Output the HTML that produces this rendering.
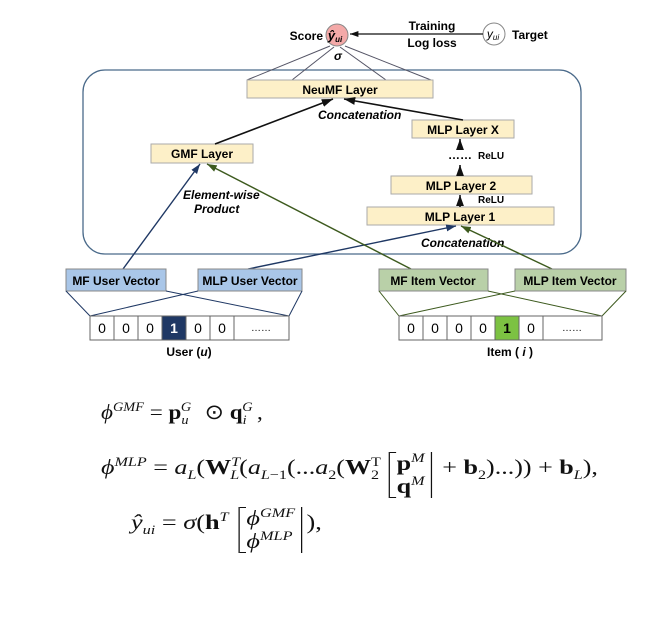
<!DOCTYPE html>
<html><head><meta charset="utf-8">
<style>
body{margin:0;background:#fff;}
#wrap{position:relative;width:672px;height:636px;overflow:hidden;font-family:"Liberation Sans",sans-serif;}
svg text{font-family:"Liberation Sans",sans-serif;}
.eq{position:absolute;font-family:"Liberation Serif",serif;font-size:21px;color:#111;white-space:nowrap;transform-origin:0 50%;}
.eq i{font-style:italic}
.eq b{font-weight:bold}
sup,sub{font-size:13px;line-height:0}
.mat{display:inline-block;vertical-align:middle;border-left:1.3px solid #111;border-right:1.3px solid #111;padding:0 5px;position:relative;line-height:23px;margin:0 3px}
.mat:before,.mat:after{content:"";position:absolute;left:0;width:5px;height:0;border-top:1.3px solid #111}
.mat:before{top:0}.mat:after{bottom:0}
</style></head><body>
<div id="wrap">
<svg width="672" height="390" style="position:absolute;left:0;top:0">
<defs>
<marker id="ak" markerWidth="8" markerHeight="8" refX="7" refY="4" orient="auto"><path d="M0,1.5 L7,4 L0,6.5z" fill="#111"/></marker>
<marker id="an" markerWidth="8" markerHeight="8" refX="7" refY="4" orient="auto"><path d="M0,1.5 L7,4 L0,6.5z" fill="#1f3864"/></marker>
<marker id="ag" markerWidth="8" markerHeight="8" refX="7" refY="4" orient="auto"><path d="M0,1.5 L7,4 L0,6.5z" fill="#3d5a1e"/></marker>
</defs>
<g><rect x="83" y="70" width="498" height="184" rx="22" fill="none" stroke="#4a6a8a" stroke-width="1.3"/></g>
<text x="323" y="40" font-size="12" font-weight="bold" text-anchor="end">Score</text>
<circle cx="337" cy="35" r="11" fill="#f4a9a8" stroke="#888"/>
<text x="335" y="40" font-size="13" font-style="italic" font-weight="bold" text-anchor="middle" font-family="Liberation Serif">ŷ<tspan font-size="8" dy="2">ui</tspan></text>
<circle cx="494" cy="34" r="11" fill="#fff" stroke="#888"/>
<text x="493" y="38" font-size="12" font-style="italic" text-anchor="middle" font-family="Liberation Serif">y<tspan font-size="8" dy="2">ui</tspan></text>
<text x="512" y="39" font-size="12" font-weight="bold">Target</text>
<line x1="483" y1="34" x2="350" y2="34" stroke="#111" stroke-width="1.2" marker-end="url(#ak)"/>
<text x="432" y="30" font-size="12" font-weight="bold" text-anchor="middle">Training</text>
<text x="432" y="47" font-size="12" font-weight="bold" text-anchor="middle">Log loss</text>
<text x="338" y="60" font-size="12" font-weight="bold" font-style="italic" text-anchor="middle" font-family="Liberation Serif">σ</text>
<g stroke="#556" stroke-width="1" fill="none">
<line x1="247" y1="80" x2="330" y2="46"/><line x1="292" y1="80" x2="334" y2="47"/><line x1="386" y1="80" x2="340" y2="47"/><line x1="431" y1="80" x2="345" y2="46"/>
</g>
<g font-size="12" font-weight="bold" text-anchor="middle">
<rect x="247" y="80" width="186" height="18" fill="#fdf0c8" stroke="#aaa"/><text x="340" y="94">NeuMF Layer</text>
<rect x="151" y="144" width="102" height="19" fill="#fdf0c8" stroke="#aaa"/><text x="202" y="158">GMF Layer</text>
<rect x="412" y="120" width="102" height="18" fill="#fdf0c8" stroke="#aaa"/><text x="463" y="134">MLP Layer X</text>
<rect x="391" y="176" width="141" height="18" fill="#fdf0c8" stroke="#aaa"/><text x="461" y="190">MLP Layer 2</text>
<rect x="367" y="207" width="187" height="18" fill="#fdf0c8" stroke="#aaa"/><text x="460" y="221">MLP Layer 1</text>
</g>
<g font-size="12" font-weight="bold" font-style="italic">
<text x="318" y="119">Concatenation</text>
<text x="421" y="247">Concatenation</text>
<text x="183" y="199">Element-wise</text>
<text x="194" y="213">Product</text>
</g>
<g font-size="10" font-weight="bold"><text x="478" y="159">ReLU</text><text x="478" y="203">ReLU</text></g>
<text x="448" y="159" font-size="12" font-weight="bold">……</text>
<g stroke="#111" stroke-width="1.6" fill="none">
<line x1="215" y1="144" x2="333" y2="99" marker-end="url(#ak)"/>
<line x1="463" y1="120" x2="344" y2="99" marker-end="url(#ak)"/>
<line x1="460" y1="150" x2="460" y2="139" marker-end="url(#ak)"/>
<line x1="460" y1="176" x2="460" y2="165" marker-end="url(#ak)"/>
<line x1="460" y1="207" x2="460" y2="195" marker-end="url(#ak)"/>
</g>
<g stroke-width="1.4" fill="none">
<line x1="123" y1="269" x2="200" y2="164" stroke="#1f3864" marker-end="url(#an)"/>
<line x1="248" y1="269" x2="456" y2="226" stroke="#1f3864" marker-end="url(#an)"/>
<line x1="411" y1="269" x2="207" y2="164" stroke="#3d5a1e" marker-end="url(#ag)"/>
<line x1="552" y1="269" x2="461" y2="226" stroke="#3d5a1e" marker-end="url(#ag)"/>
</g>
<g font-size="12" font-weight="bold" text-anchor="middle">
<rect x="66" y="269" width="100" height="22" fill="#a9c6e8" stroke="#888"/><text x="116" y="285">MF User Vector</text>
<rect x="198" y="269" width="104" height="22" fill="#a9c6e8" stroke="#888"/><text x="250" y="285">MLP User Vector</text>
<rect x="379" y="269" width="109" height="22" fill="#b9d0a8" stroke="#888"/><text x="433" y="285">MF Item Vector</text>
<rect x="515" y="269" width="111" height="22" fill="#b9d0a8" stroke="#888"/><text x="570" y="285">MLP Item Vector</text>
</g>
<g stroke="#1f3864" stroke-width="1" fill="none">
<line x1="66" y1="291" x2="90" y2="316"/><line x1="166" y1="291" x2="289" y2="316"/>
<line x1="198" y1="291" x2="90" y2="316"/><line x1="302" y1="291" x2="289" y2="316"/>
</g>
<g stroke="#3d5a1e" stroke-width="1" fill="none">
<line x1="379" y1="291" x2="399" y2="316"/><line x1="488" y1="291" x2="602" y2="316"/>
<line x1="515" y1="291" x2="399" y2="316"/><line x1="626" y1="291" x2="602" y2="316"/>
</g>
<g font-size="14" text-anchor="middle" stroke="#666">
<rect x="90" y="316" width="199" height="24" fill="#fff"/>
<rect x="162" y="316" width="24" height="24" fill="#1f3864"/>
<g stroke="#666"><line x1="114" y1="316" x2="114" y2="340"/><line x1="138" y1="316" x2="138" y2="340"/><line x1="210" y1="316" x2="210" y2="340"/><line x1="234" y1="316" x2="234" y2="340"/></g>
<g stroke="none"><text x="102" y="333">0</text><text x="126" y="333">0</text><text x="150" y="333">0</text><text x="174" y="333" fill="#fff" font-weight="bold">1</text><text x="198" y="333">0</text><text x="222" y="333">0</text><text x="261" y="331" font-size="10">……</text></g>
</g>
<g font-size="14" text-anchor="middle" stroke="#666">
<rect x="399" y="316" width="203" height="24" fill="#fff"/>
<rect x="495" y="316" width="24" height="24" fill="#7cc242"/>
<g><line x1="423" y1="316" x2="423" y2="340"/><line x1="447" y1="316" x2="447" y2="340"/><line x1="471" y1="316" x2="471" y2="340"/><line x1="543" y1="316" x2="543" y2="340"/></g>
<g stroke="none"><text x="411" y="333">0</text><text x="435" y="333">0</text><text x="459" y="333">0</text><text x="483" y="333">0</text><text x="507" y="333" font-weight="bold">1</text><text x="531" y="333">0</text><text x="572" y="331" font-size="10">……</text></g>
</g>
<text x="189" y="356" font-size="12" font-weight="bold" text-anchor="middle">User (<tspan font-style="italic">u</tspan>)</text>
<text x="510" y="356" font-size="12" font-weight="bold" text-anchor="middle">Item ( <tspan font-style="italic">i</tspan> )</text>
</svg>
<div class="eq" style="left:101px;top:400px;transform:scaleX(1.1)"><i>ϕ</i><sup><i>GMF</i></sup> = <b>p</b><sub><i>u</i></sub><sup style="position:relative;left:-7px"><i>G</i></sup> ⊙ <b>q</b><sub><i>i</i></sub><sup style="position:relative;left:-4px"><i>G</i></sup>,</div>
<div class="eq" style="left:101px;top:446px;transform:scaleX(1.24)"><i>ϕ</i><sup><i>MLP</i></sup> = <i>a</i><sub><i>L</i></sub>(<b>W</b><sup><i>T</i></sup><sub style="margin-left:-8px"><i>L</i></sub>(<i>a</i><sub><i>L</i>−1</sub>(...<i>a</i><sub>2</sub>(<b>W</b><sup>T</sup><sub style="margin-left:-8px">2</sub> <span class="mat" style="top:6px"><b>p</b><sup><i>M</i></sup><br><b>q</b><sup><i>M</i></sup></span> + <b>b</b><sub>2</sub>)...)) + <b>b</b><sub><i>L</i></sub>),</div>
<div class="eq" style="left:131px;top:501px;transform:scaleX(1.25)"><i>ŷ</i><sub><i>ui</i></sub> = <i>σ</i>(<b>h</b><sup><i>T</i></sup> <span class="mat" style="top:6px"><i>ϕ</i><sup><i>GMF</i></sup><br><i>ϕ</i><sup><i>MLP</i></sup></span>),</div>
</div>
</body></html>
